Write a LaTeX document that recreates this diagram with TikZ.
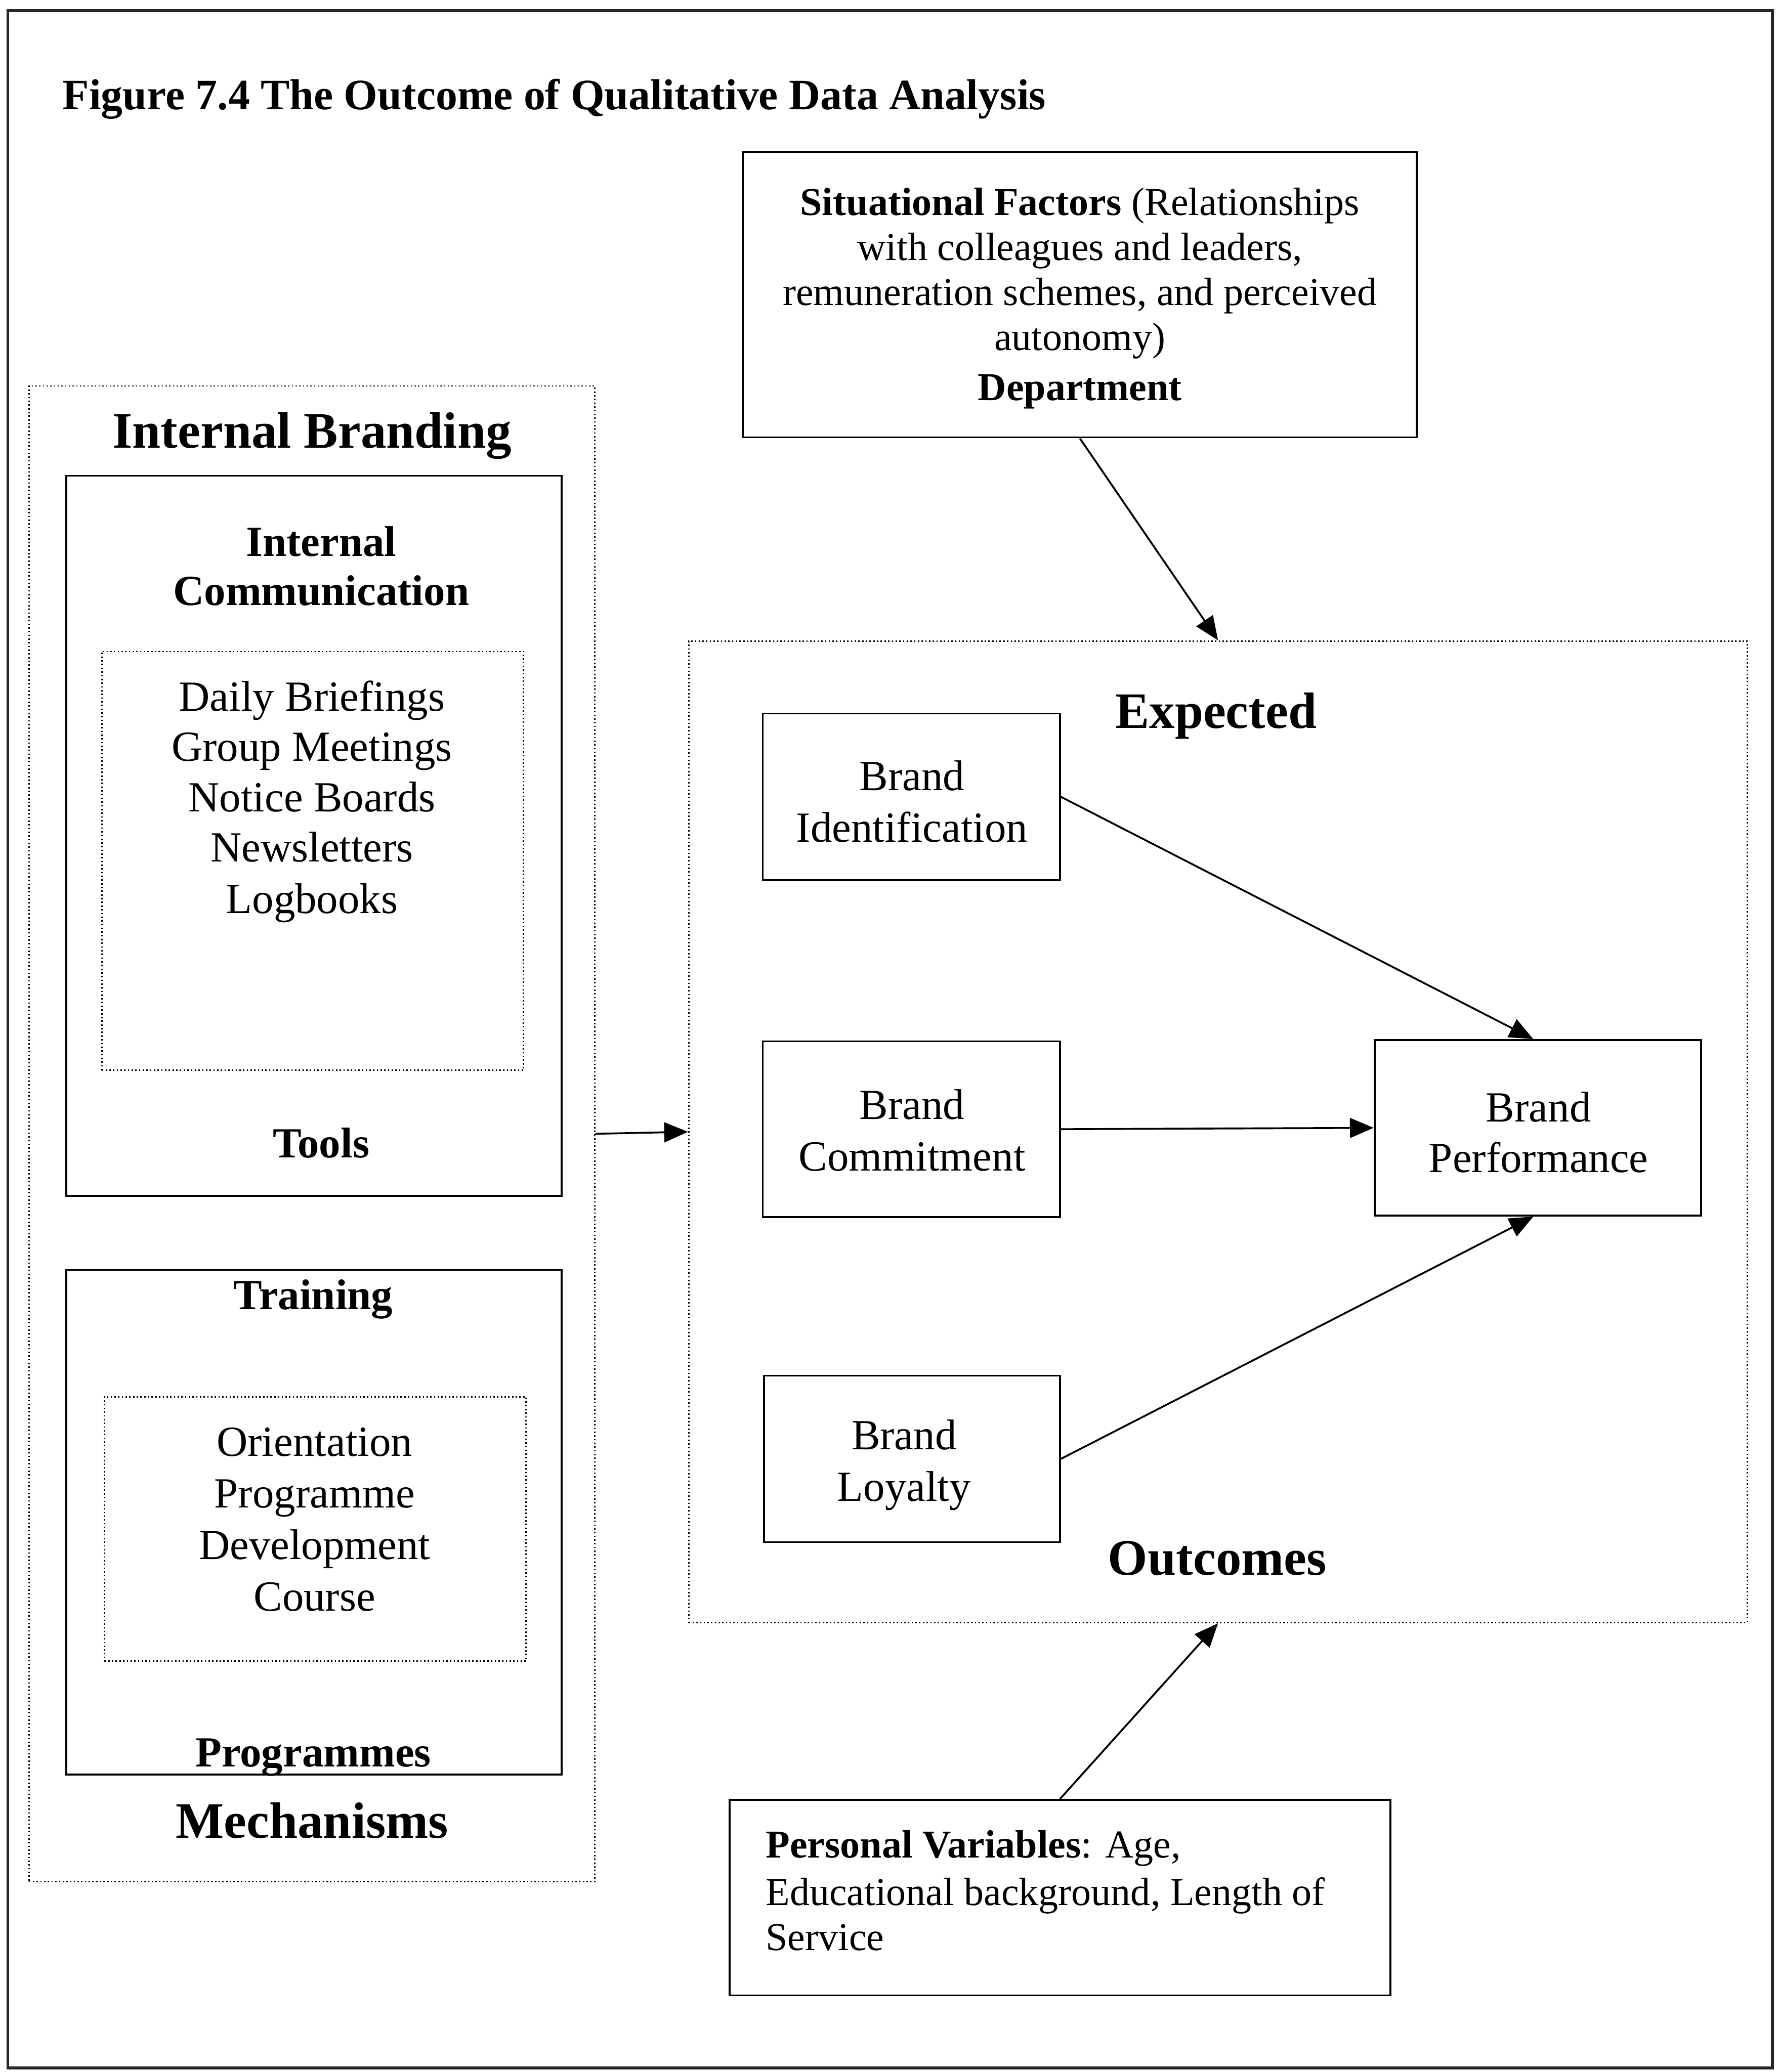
\documentclass[tikz,border=0pt]{standalone}
\usepackage{fontspec}
\setmainfont{Liberation Serif}
\usetikzlibrary{arrows.meta}
\begin{document}
\begin{tikzpicture}[x=0.02cm,y=-0.02cm,
  box/.style={draw, line width=0.8pt, inner sep=0pt},
  dotbox/.style={draw, line width=0.6pt, dash pattern=on 0.6pt off 1pt, inner sep=0pt},
  arr/.style={line width=0.8pt, -{Triangle[length=0.36cm,width=0.3cm]}},
  lbl/.style={inner sep=0pt, anchor=mid, yshift=-0.14cm},
  body/.style={lbl, font=\fontsize{18.5}{22}\selectfont},
  small/.style={lbl, font=\fontsize{17}{20}\selectfont},
  head/.style={lbl, font=\fontsize{18.5}{22}\selectfont\bfseries},
  big/.style={lbl, font=\fontsize{22}{26}\selectfont\bfseries},
]
\useasboundingbox (0,0) rectangle (1345,1568);
% page frame
\draw[line width=1.2pt, black!85] (6,8) rectangle (1341,1565);

% caption
\node[head, anchor=mid west, font=\fontsize{18.7}{22}\selectfont\bfseries] (title) at (47,72) {Figure 7.4 The Outcome of Qualitative Data Analysis};

% situational factors
\node[box, minimum width=10.2cm, minimum height=4.32cm] (sit) at (817,223) {};
\node[small] (sit1) at (817,152) {\textbf{Situational Factors} (Relationships};
\node[small] (sit2) at (817,186) {with colleagues and leaders,};
\node[small] (sit3) at (817,220) {remuneration schemes, and perceived};
\node[small] (sit4) at (817,254) {autonomy)};
\node[small, font=\fontsize{17}{20}\selectfont\bfseries] (sit5) at (817,292) {Department};

% internal branding mechanisms
\node[dotbox, minimum width=8.56cm, minimum height=22.64cm] (ib) at (236,858) {};
\node[big] (ibt) at (236,328) {Internal Branding};
\node[big] (ibm) at (236,1380) {Mechanisms};

\node[box, minimum width=7.5cm, minimum height=10.9cm] (ic) at (237.5,632.5) {};
\node[head] (ic1) at (243,410) {Internal};
\node[head] (ic2) at (243,447) {Communication};
\node[dotbox, minimum width=6.38cm, minimum height=6.34cm] (icl) at (236.5,651.5) {};
\foreach \t/\y [count=\i] in {Daily Briefings/527, Group Meetings/565, Notice Boards/603, Newsletters/641, Logbooks/680}
  \node[body] (tool\i) at (236,\y) {\t};
\node[head] (tools) at (243,865) {Tools};

\node[box, minimum width=7.5cm, minimum height=7.64cm] (tr) at (237.5,1152) {};
\node[head] (trt) at (237,980) {Training};
\node[dotbox, minimum width=6.38cm, minimum height=4.0cm] (trl) at (238.5,1157) {};
\foreach \t/\y [count=\i] in {Orientation/1091, Programme/1130, Development/1169, Course/1208}
  \node[body] (prog\i) at (238,\y) {\t};
\node[head] (progs) at (237,1326) {Programmes};

% expected outcomes
\node[dotbox, minimum width=16.02cm, minimum height=14.86cm] (out) at (921.5,856.5) {};
\node[big] (exp) at (920,540) {Expected};
\node[big] (outc) at (921,1181) {Outcomes};

\node[box, minimum width=4.5cm, minimum height=2.52cm] (bi) at (689.5,603) {};
\node[body] at (690,587) {Brand};
\node[body] at (690,626) {Identification};

\node[box, minimum width=4.5cm, minimum height=2.66cm] (bc) at (689.5,854.5) {};
\node[body] at (690,836) {Brand};
\node[body] at (690,875) {Commitment};

\node[box, minimum width=4.48cm, minimum height=2.52cm] (bl) at (690,1104) {};
\node[body] at (684,1086) {Brand};
\node[body] at (684,1125) {Loyalty};

\node[box, minimum width=4.94cm, minimum height=2.66cm] (bp) at (1163.5,853.5) {};
\node[body] at (1164,838) {Brand};
\node[body] at (1164,876) {Performance};

% personal variables
\node[box, minimum width=10cm, minimum height=2.96cm] (pv) at (802,1436) {};
\node[small, anchor=mid west] (pv1) at (579,1395) {\textbf{Personal Variables}: Age,};
\node[small, anchor=mid west] (pv2) at (579,1431) {Educational background, Length of};
\node[small, anchor=mid west] (pv3) at (579,1465) {Service};

% connectors
\draw[arr] (sit.south) -- (out.north);
\draw[arr] (pv.north) -- (out.south);
\draw[arr] (ib.east) -- (out.west);
\draw[arr] (bi.east) -- ([xshift=-0.07cm]bp.north);
\draw[arr] (bc.east) -- (bp.west);
\draw[arr] (bl.east) -- ([xshift=-0.07cm]bp.south);
\end{tikzpicture}
\end{document}
